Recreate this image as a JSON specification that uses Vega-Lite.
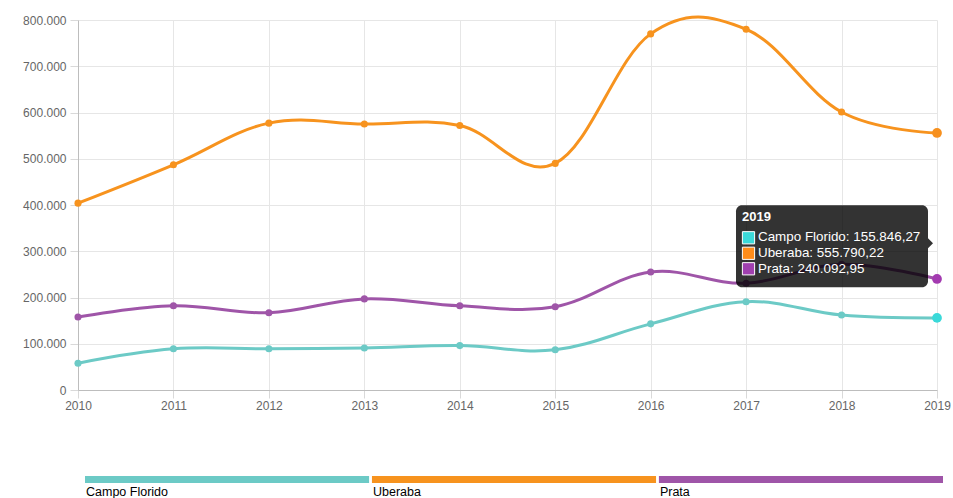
{
  "$schema": "https://vega.github.io/schema/vega-lite/v6.json",
  "padding": {"left": 22, "top": 10, "right": 10, "bottom": 0},
  "background": "white",
  "spacing": 65,
  "config": {
    "locale": {"number": {"decimal": ",", "thousands": ".", "grouping": [3], "currency": ["R$", ""]}},
    "view": {"stroke": null},
    "font": "Liberation Sans",
    "axisY": {"tickCount": 8, "labelColor": "#666", "labelFontSize": 12, "tickSize": 8, "labelPadding": 4,
      "tickColor": "#d9d9d9", "domainColor": "#bdbdbd", "gridColor": "#e6e6e6", "title": null, "labelOverlap": false},
    "axisX": {"labelColor": "#666", "labelFontSize": 12, "tickSize": 8, "labelPadding": 2,
      "tickColor": "#d9d9d9", "domainColor": "#bdbdbd", "gridColor": "#e6e6e6", "title": null, "labelFlush": false}
  },
  "datasets": {
    "main": [
      {"year": 2010, "series": "Campo Florido", "value": 58000},
      {"year": 2011, "series": "Campo Florido", "value": 89000},
      {"year": 2012, "series": "Campo Florido", "value": 89000},
      {"year": 2013, "series": "Campo Florido", "value": 91000},
      {"year": 2014, "series": "Campo Florido", "value": 96000},
      {"year": 2015, "series": "Campo Florido", "value": 87000},
      {"year": 2016, "series": "Campo Florido", "value": 143000},
      {"year": 2017, "series": "Campo Florido", "value": 191000},
      {"year": 2018, "series": "Campo Florido", "value": 162000},
      {"year": 2019, "series": "Campo Florido", "value": 155846.27},
      {"year": 2010, "series": "Uberaba", "value": 404000},
      {"year": 2011, "series": "Uberaba", "value": 487000},
      {"year": 2012, "series": "Uberaba", "value": 577000},
      {"year": 2013, "series": "Uberaba", "value": 575000},
      {"year": 2014, "series": "Uberaba", "value": 572000},
      {"year": 2015, "series": "Uberaba", "value": 490000},
      {"year": 2016, "series": "Uberaba", "value": 770000},
      {"year": 2017, "series": "Uberaba", "value": 780000},
      {"year": 2018, "series": "Uberaba", "value": 601000},
      {"year": 2019, "series": "Uberaba", "value": 555790.22},
      {"year": 2010, "series": "Prata", "value": 158000},
      {"year": 2011, "series": "Prata", "value": 182000},
      {"year": 2012, "series": "Prata", "value": 167000},
      {"year": 2013, "series": "Prata", "value": 197000},
      {"year": 2014, "series": "Prata", "value": 182000},
      {"year": 2015, "series": "Prata", "value": 180000},
      {"year": 2016, "series": "Prata", "value": 255000},
      {"year": 2017, "series": "Prata", "value": 231000},
      {"year": 2018, "series": "Prata", "value": 272000},
      {"year": 2019, "series": "Prata", "value": 240092.95}
    ],
    "legend": [
      {"series": "Campo Florido"},
      {"series": "Uberaba"},
      {"series": "Prata"}
    ]
  },
  "vconcat": [
    {
      "width": 859,
      "height": 370,
      "layer": [
        {
          "data": {"name": "main"},
          "mark": {"type": "line", "interpolate": "cardinal", "tension": -0.1, "strokeWidth": 3},
          "encoding": {
            "x": {"field": "year", "type": "quantitative",
              "scale": {"domain": [2010, 2019], "nice": false, "zero": false},
              "axis": {"format": "d", "values": [2010, 2011, 2012, 2013, 2014, 2015, 2016, 2017, 2018, 2019]}},
            "y": {"field": "value", "type": "quantitative",
              "scale": {"domain": [0, 800000], "nice": false},
              "axis": {"format": ",.0f"}},
            "stroke": {"field": "series", "type": "nominal",
              "scale": {"domain": ["Campo Florido", "Uberaba", "Prata"], "range": ["#6ccac6", "#f7931e", "#9f55a8"]},
              "legend": null},
            "detail": {"field": "series"}
          }
        },
        {
          "data": {"name": "main"},
          "transform": [{"filter": "datum.year < 2019"}],
          "mark": {"type": "point", "filled": true, "size": 50, "opacity": 1},
          "encoding": {
            "x": {"field": "year", "type": "quantitative"},
            "y": {"field": "value", "type": "quantitative"},
            "fill": {"field": "series", "type": "nominal",
              "scale": {"domain": ["Campo Florido", "Uberaba", "Prata"], "range": ["#6ccac6", "#f7931e", "#9f55a8"]},
              "legend": null}
          }
        },
        {
          "data": {"name": "main"},
          "transform": [{"filter": "datum.year == 2019"}],
          "mark": {"type": "point", "filled": true, "size": 95, "opacity": 1},
          "encoding": {
            "x": {"field": "year", "type": "quantitative"},
            "y": {"field": "value", "type": "quantitative"},
            "color": {"field": "series", "type": "nominal",
              "scale": {"domain": ["Campo Florido", "Uberaba", "Prata"], "range": ["#3ad9d9", "#f7901e", "#a33ab0"]},
              "legend": null}
          }
        },
        {
          "data": {"values": [{}]},
          "mark": {"type": "rect", "fill": "#000", "fillOpacity": 0.8, "cornerRadius": 6,
            "xOffset": -201, "x2Offset": -9, "yOffset": -38, "y2Offset": 44},
          "encoding": {
            "x": {"datum": 2019, "type": "quantitative"},
            "x2": {"datum": 2019},
            "y": {"datum": 317243, "type": "quantitative"},
            "y2": {"datum": 317243}
          }
        },
        {
          "data": {"values": [{}]},
          "mark": {"type": "point", "filled": true, "fill": "#000", "fillOpacity": 0.8, "opacity": 1,
            "shape": "M0,-1L1,0L0,1Z", "size": 100, "xOffset": -9},
          "encoding": {
            "x": {"datum": 2019, "type": "quantitative"},
            "y": {"datum": 317243, "type": "quantitative"}
          }
        },
        {
          "data": {"values": [{}]},
          "mark": {"type": "text", "color": "white", "fontSize": 13, "fontWeight": "bold", "align": "left", "baseline": "middle", "dx": -195, "dy": -26},
          "encoding": {
            "x": {"datum": 2019, "type": "quantitative"},
            "y": {"datum": 317243, "type": "quantitative"},
            "text": {"value": "2019"}
          }
        },
        {
          "data": {"values": [{}]},
          "mark": {"type": "text", "color": "white", "fontSize": 13.4, "align": "left", "baseline": "middle", "dx": -179, "dy": -6},
          "encoding": {
            "x": {"datum": 2019, "type": "quantitative"},
            "y": {"datum": 317243, "type": "quantitative"},
            "text": {"value": "Campo Florido: 155.846,27"}
          }
        },
        {
          "data": {"values": [{}]},
          "mark": {"type": "text", "color": "white", "fontSize": 13.4, "align": "left", "baseline": "middle", "dx": -179, "dy": 10},
          "encoding": {
            "x": {"datum": 2019, "type": "quantitative"},
            "y": {"datum": 317243, "type": "quantitative"},
            "text": {"value": "Uberaba: 555.790,22"}
          }
        },
        {
          "data": {"values": [{}]},
          "mark": {"type": "text", "color": "white", "fontSize": 13.4, "align": "left", "baseline": "middle", "dx": -179, "dy": 26},
          "encoding": {
            "x": {"datum": 2019, "type": "quantitative"},
            "y": {"datum": 317243, "type": "quantitative"},
            "text": {"value": "Prata: 240.092,95"}
          }
        },
        {
          "data": {"values": [{}]},
          "mark": {"type": "point", "shape": "square", "filled": true, "fill": "#3ad9d9", "stroke": "white", "strokeWidth": 1, "opacity": 1, "size": 150, "xOffset": -188.5, "yOffset": -5.5},
          "encoding": {
            "x": {"datum": 2019, "type": "quantitative"},
            "y": {"datum": 317243, "type": "quantitative"}
          }
        },
        {
          "data": {"values": [{}]},
          "mark": {"type": "point", "shape": "square", "filled": true, "fill": "#ff8c1a", "stroke": "white", "strokeWidth": 1, "opacity": 1, "size": 150, "xOffset": -188.5, "yOffset": 10},
          "encoding": {
            "x": {"datum": 2019, "type": "quantitative"},
            "y": {"datum": 317243, "type": "quantitative"}
          }
        },
        {
          "data": {"values": [{}]},
          "mark": {"type": "point", "shape": "square", "filled": true, "fill": "#a040b0", "stroke": "white", "strokeWidth": 1, "opacity": 1, "size": 150, "xOffset": -188.5, "yOffset": 25.5},
          "encoding": {
            "x": {"datum": 2019, "type": "quantitative"},
            "y": {"datum": 317243, "type": "quantitative"}
          }
        }
      ]
    },
    {
      "width": 865,
      "height": 7,
      "data": {"name": "legend"},
      "encoding": {
        "x": {"field": "series", "type": "nominal", "sort": null, "bandPosition": 0,
          "scale": {"domain": ["Campo Florido", "Uberaba", "Prata"], "paddingInner": 0.01, "paddingOuter": 0.0122, "align": 1},
          "axis": null}
      },
      "layer": [
        {
          "mark": {"type": "bar"},
          "encoding": {
            "x": {"field": "series", "type": "nominal", "sort": null},
            "fill": {"field": "series", "type": "nominal", "legend": null}
          }
        },
        {
          "mark": {"type": "text", "align": "left", "baseline": "top", "dx": 1, "dy": 6, "fontSize": 12.5, "color": "#000", "font": "Liberation Sans"},
          "encoding": {
            "text": {"field": "series"}
          }
        }
      ]
    }
  ]
}
